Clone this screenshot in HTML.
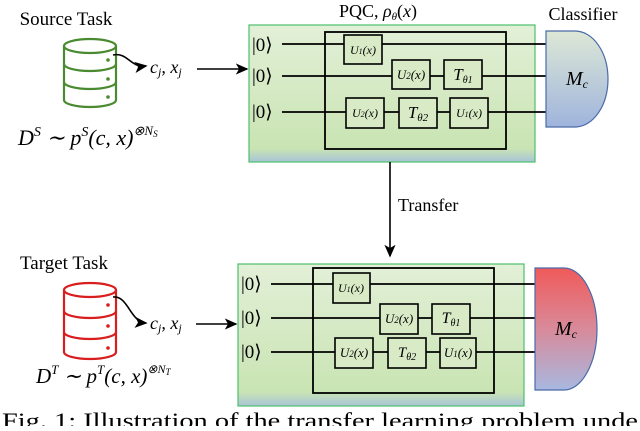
<!DOCTYPE html>
<html><head><meta charset="utf-8"><style>
body{margin:0;background:#fff;width:640px;height:426px;overflow:hidden}
text{font-family:"Liberation Serif",serif;fill:#000}
.it{font-style:italic}
</style></head><body>
<svg width="640" height="426" viewBox="0 0 640 426" xmlns="http://www.w3.org/2000/svg">
<defs>
<linearGradient id="g1" x1="0" y1="0" x2="0" y2="1"><stop offset="0" stop-color="#e3f0d8"/><stop offset="0.9" stop-color="#c9e4b3"/><stop offset="1" stop-color="#a8c4d8"/></linearGradient>
<linearGradient id="c1" x1="0" y1="0" x2="0" y2="1"><stop offset="0" stop-color="#dde8d6"/><stop offset="1" stop-color="#9fb4dc"/></linearGradient>
<linearGradient id="c2" x1="0" y1="0" x2="0" y2="1"><stop offset="0" stop-color="#f05a5a"/><stop offset="0.5" stop-color="#d88a9a"/><stop offset="1" stop-color="#a8b8e0"/></linearGradient>
<marker id="ar" markerWidth="8" markerHeight="8" refX="7" refY="4" orient="auto"><path d="M0,0.5 L8,4 L0,7.5 L2,4Z" fill="#000"/></marker>
</defs>

<text x="66" y="25" font-size="19" text-anchor="middle">Source Task</text>
<g fill="none" stroke="#4a8a30" stroke-width="2.2">
<ellipse cx="90" cy="46" rx="26" ry="7"/>
<path d="M64,46 V100 A26,7 0 0 0 116,100 V46"/>
<path d="M64,64 A26,7 0 0 0 116,64 M64,82 A26,7 0 0 0 116,82"/>
</g>
<g fill="#4a8a30"><circle cx="108" cy="60" r="1.8"/><circle cx="108" cy="79" r="1.8"/><circle cx="108" cy="97" r="1.8"/></g>
<path d="M113,55 C128,52 130,68 146,66" fill="none" stroke="#000" stroke-width="1.6" marker-end="url(#ar)"/>
<text x="150" y="73" font-size="18" class="it">c<tspan font-size="12" dy="3">j</tspan><tspan dy="-3">, x</tspan><tspan font-size="12" dy="3">j</tspan></text>
<line x1="197" y1="69" x2="247" y2="69" stroke="#000" stroke-width="1.6" marker-end="url(#ar)"/>
<text x="18" y="145" font-size="22" class="it">D<tspan font-size="14" dy="-9">S</tspan><tspan dy="9"> ∼ p</tspan><tspan font-size="14" dy="-9">S</tspan><tspan dy="9">(c, x)</tspan><tspan font-size="13" dy="-10">⊗N</tspan><tspan font-size="9" dy="2">S</tspan></text>

<text x="378" y="17" font-size="18" text-anchor="middle">PQC, <tspan class="it">ρ</tspan><tspan font-size="11" class="it" dy="3">θ</tspan><tspan dy="-3">(</tspan><tspan class="it">x</tspan>)</text>
<text x="583" y="20" font-size="18" text-anchor="middle">Classifier</text>

<g>
<rect x="249" y="25" width="286" height="137" fill="url(#g1)" stroke="#4cc06a" stroke-width="1.2"/>
<rect x="325" y="32" width="181" height="117" fill="none" stroke="#000" stroke-width="1.8"/>
<g stroke="#000" stroke-width="1.8"><line x1="282" y1="44" x2="547" y2="44"/><line x1="282" y1="76" x2="547" y2="76"/><line x1="282" y1="112" x2="547" y2="112"/></g>
<text x="252" y="51" font-size="19">|0⟩</text><text x="252" y="82" font-size="19">|0⟩</text><text x="252" y="118" font-size="19">|0⟩</text>
<g fill="#d8ebc6" stroke="#000" stroke-width="1.6">
<rect x="344" y="35" width="38" height="29"/><rect x="392" y="60" width="38" height="29"/><rect x="444" y="60" width="38" height="29"/>
<rect x="346" y="98" width="38" height="30"/><rect x="399" y="98" width="38" height="30"/><rect x="450" y="98" width="38" height="30"/>
</g>
<g font-size="12" class="it" text-anchor="middle">
<text x="363" y="54">U<tspan font-size="8">1</tspan>(x)</text><text x="411" y="79" font-size="13">U<tspan font-size="9">2</tspan>(x)</text><text x="463" y="80" font-size="17">T<tspan font-size="10" dy="3">θ1</tspan></text>
<text x="365" y="117">U<tspan font-size="8">2</tspan>(x)</text><text x="418" y="118" font-size="17">T<tspan font-size="11" dy="3">θ2</tspan></text><text x="469" y="117">U<tspan font-size="8">1</tspan>(x)</text>
</g>
<path d="M546,31 H575 A33,48 0 0 1 575,127 H546 Z" fill="url(#c1)" stroke="#4a6aa8" stroke-width="1.2"/>
<text x="577" y="85" font-size="20" class="it" text-anchor="middle">M<tspan font-size="12" dy="3">c</tspan></text>
</g>

<line x1="390" y1="162" x2="390" y2="256" stroke="#000" stroke-width="1.6" marker-end="url(#ar)"/>
<text x="398" y="211" font-size="18">Transfer</text>

<text x="64" y="269" font-size="19" text-anchor="middle">Target Task</text>
<g fill="none" stroke="#d81e1e" stroke-width="2.2">
<ellipse cx="90" cy="290" rx="26" ry="7"/>
<path d="M64,290 V352 A26,7 0 0 0 116,352 V290"/>
<path d="M64,311 A26,7 0 0 0 116,311 M64,332 A26,7 0 0 0 116,332"/>
</g>
<g fill="#d81e1e"><circle cx="108" cy="305" r="1.8"/><circle cx="108" cy="326" r="1.8"/><circle cx="108" cy="348" r="1.8"/></g>
<path d="M113,297 C128,295 130,322 146,323" fill="none" stroke="#000" stroke-width="1.6" marker-end="url(#ar)"/>
<text x="150" y="329" font-size="18" class="it">c<tspan font-size="12" dy="3">j</tspan><tspan dy="-3">, x</tspan><tspan font-size="12" dy="3">j</tspan></text>
<line x1="196" y1="324" x2="236" y2="324" stroke="#000" stroke-width="1.6" marker-end="url(#ar)"/>
<text x="36" y="383" font-size="21" class="it">D<tspan font-size="13" dy="-9">T</tspan><tspan dy="9"> ∼ p</tspan><tspan font-size="13" dy="-9">T</tspan><tspan dy="9">(c, x)</tspan><tspan font-size="12" dy="-10">⊗N</tspan><tspan font-size="9" dy="2">T</tspan></text>

<g>
<rect x="238" y="264" width="286" height="142" fill="url(#g1)" stroke="#4cc06a" stroke-width="1.2"/>
<rect x="313" y="268" width="181" height="125" fill="none" stroke="#000" stroke-width="1.8"/>
<g stroke="#000" stroke-width="1.8"><line x1="271" y1="284" x2="536" y2="284"/><line x1="271" y1="318" x2="536" y2="318"/><line x1="271" y1="352" x2="536" y2="352"/></g>
<text x="241" y="290" font-size="19">|0⟩</text><text x="241" y="324" font-size="19">|0⟩</text><text x="241" y="358" font-size="19">|0⟩</text>
<g fill="#d8ebc6" stroke="#000" stroke-width="1.6">
<rect x="333" y="273" width="37" height="30"/><rect x="380" y="304" width="38" height="30"/><rect x="432" y="304" width="38" height="30"/>
<rect x="335" y="338" width="38" height="30"/><rect x="388" y="338" width="38" height="30"/><rect x="440" y="338" width="36" height="30"/>
</g>
<g font-size="12" class="it" text-anchor="middle">
<text x="351" y="292">U<tspan font-size="8">1</tspan>(x)</text><text x="399" y="323" font-size="13">U<tspan font-size="9">2</tspan>(x)</text><text x="451" y="323" font-size="16">T<tspan font-size="10" dy="3">θ1</tspan></text>
<text x="354" y="357" font-size="13">U<tspan font-size="9">2</tspan>(x)</text><text x="407" y="357" font-size="15">T<tspan font-size="10" dy="3">θ2</tspan></text><text x="458" y="357" font-size="13">U<tspan font-size="9">1</tspan>(x)</text>
</g>
<path d="M535,268 H564 A33,61 0 0 1 564,390 H535 Z" fill="url(#c2)" stroke="#4a6aa8" stroke-width="1.2"/>
<text x="566" y="335" font-size="20" class="it" text-anchor="middle">M<tspan font-size="12" dy="3">c</tspan></text>
</g>

<text x="2" y="428" font-size="22" textLength="636" lengthAdjust="spacingAndGlyphs">Fig. 1: Illustration of the transfer learning problem unde</text>
</svg>
</body></html>
